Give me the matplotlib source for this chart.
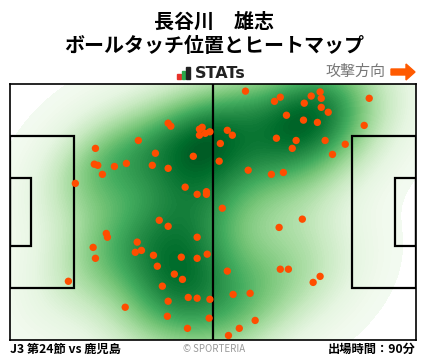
import numpy as np
import matplotlib
matplotlib.use("Agg")
import matplotlib.pyplot as plt
from matplotlib.patches import Rectangle, FancyArrow

plt.rcParams['font.family'] = ['Noto Sans CJK JP', 'DejaVu Sans']

# ボールタッチ位置 (m, 左上原点, 攻撃方向は右)
touch_x = [40.9, 41.6, 49.0, 49.7, 50.5, 51.7, 49.0, 33.2, 22.1, 37.6,
           47.4, 21.8, 22.7, 27.0, 30.1, 36.8, 40.9, 23.9, 16.9, 45.3,
           48.4, 50.8, 50.8, 60.9, 68.4, 69.9, 77.9, 80.2, 80.5, 92.9,
           76.1, 80.5, 82.3, 71.5, 75.9, 79.5, 91.6, 56.2, 57.5, 68.9,
           74.0, 81.5, 54.4, 73.0, 86.7, 83.4, 54.1, 61.6, 67.6, 70.7,
           54.9, 75.6, 38.6, 40.9, 24.9, 25.2, 48.4, 21.5, 32.9, 32.4,
           34.0, 37.1, 44.3, 48.4, 51.0, 22.1, 38.1, 42.5, 44.6, 15.1,
           39.4, 40.9, 46.1, 48.4, 51.7, 29.8, 40.7, 51.5, 45.9, 69.6,
           56.2, 69.9, 72.0, 80.2, 78.4, 57.7, 62.1, 63.4, 59.3, 56.5]
touch_y = [10.4, 11.2, 12.0, 11.5, 13.1, 12.7, 13.6, 15.0, 17.1, 18.4,
           19.2, 21.3, 21.6, 21.9, 21.1, 21.6, 22.4, 24.0, 26.4, 27.4,
           29.3, 28.6, 29.3, 1.9, 4.6, 3.5, 3.2, 2.1, 3.8, 3.8,
           5.1, 6.2, 7.5, 8.3, 9.6, 10.2, 11.0, 12.3, 13.6, 14.4,
           15.0, 15.0, 15.8, 17.1, 16.0, 18.7, 20.5, 22.9, 24.0, 23.5,
           33.0, 35.9, 36.2, 37.8, 39.7, 40.7, 40.7, 43.4, 42.0, 44.7,
           44.2, 45.5, 46.0, 46.3, 45.2, 46.3, 48.4, 50.5, 51.9, 52.4,
           53.7, 57.7, 56.7, 56.9, 57.2, 59.3, 61.7, 62.2, 64.9, 38.1,
           49.7, 49.2, 49.2, 51.1, 52.7, 55.9, 55.6, 62.8, 64.9, 66.8]

player = "長谷川　雄志"
subtitle = "ボールタッチ位置とヒートマップ"
match_label = "J3 第24節 vs 鹿児島"
minutes_label = "出場時間：90分"

L, W = 105.0, 68.0

fig = plt.figure(figsize=(4.28, 3.59), dpi=100)
ax = fig.add_axes([10 / 428, 19 / 359, 406 / 428, 256 / 359])

# ヒートマップ (ガウスカーネル密度推定)
pts = np.vstack([touch_x, touch_y])
n = pts.shape[1]
cov = np.cov(pts) * (n ** (-1 / 6)) ** 2 * 1.15
inv = np.linalg.inv(cov)
gx, gy = np.meshgrid(np.linspace(0, L, 300), np.linspace(0, W, 200))
grid = np.vstack([gx.ravel(), gy.ravel()])
dens = np.zeros(grid.shape[1])
for i in range(n):
    d = grid - pts[:, i:i + 1]
    dens += np.exp(-0.5 * np.sum(d * (inv @ d), axis=0))
dens = dens.reshape(gx.shape)
dens /= dens.max()
levels = np.linspace(0.012, 1.0, 90)
ax.contourf(gx, gy, dens, levels=levels, cmap='Greens', vmin=-0.02, vmax=1.08,
            extend='max', zorder=1)

# ピッチ
lc = 'black'
lw = 1.6
ax.plot([L / 2, L / 2], [0, W], color=lc, lw=lw, zorder=3)
for x0, w in [(0, 16.5), (L - 16.5, 16.5)]:
    ax.add_patch(Rectangle((x0, 13.84), w, 40.32, fill=False, ec=lc, lw=lw, zorder=3))
for x0, w in [(0, 5.5), (L - 5.5, 5.5)]:
    ax.add_patch(Rectangle((x0, 24.84), w, 18.32, fill=False, ec=lc, lw=lw, zorder=3))

ax.scatter(touch_x, touch_y, s=28, color='#ff4d00', edgecolors='none', zorder=4)

ax.set_xlim(0, L)
ax.set_ylim(W, 0)
ax.set_xticks([])
ax.set_yticks([])
for sp in ax.spines.values():
    sp.set_linewidth(1.2)

# タイトル
fig.text(0.5, 1 - 21 / 359, player, ha='center', va='center', fontsize=14.4, fontweight='bold')
fig.text(0.5, 1 - 46 / 359, subtitle, ha='center', va='center', fontsize=14.4, fontweight='bold')

# STATs ロゴ
fx = lambda px: px / 428
fy = lambda py: 1 - py / 359
for x0, h, c in [(177, 5, '#e8322a'), (181.5, 8, '#2aa84a'), (186, 12, '#222222')]:
    fig.add_artist(Rectangle((fx(x0), fy(79)), 3.5 / 428, h / 359, color=c,
                             transform=fig.transFigure))
fig.text(fx(195), fy(73), "STATs", ha='left', va='center', fontsize=11.5,
         fontweight='bold', color='#222222', family=['DejaVu Sans'])

fig.text(fx(385), fy(72), "攻撃方向", ha='right', va='center', fontsize=10.8, color='#777777')
fig.add_artist(FancyArrow(fx(391), fy(72), 15 / 428, 0, width=6 / 359,
                          head_width=16 / 359, head_length=9 / 428,
                          length_includes_head=False, color='#ff5a00',
                          transform=fig.transFigure))

# フッター
fig.text(fx(10), fy(349), match_label, ha='left', va='center', fontsize=8.8, fontweight='bold')
fig.text(0.5, fy(349), "© SPORTERIA", ha='center', va='center', fontsize=7, color='#999999')
fig.text(fx(416), fy(349), minutes_label, ha='right', va='center', fontsize=8.8, fontweight='bold')

fig.savefig('out.png', dpi=100)
